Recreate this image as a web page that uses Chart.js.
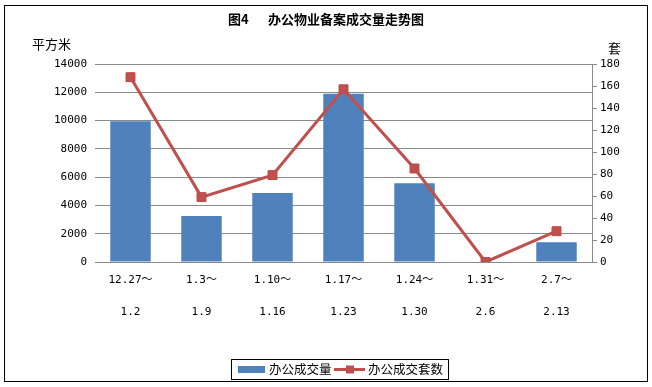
<!DOCTYPE html>
<html>
<head>
<meta charset="utf-8">
<script src="https://cdn.jsdelivr.net/npm/chart.js@4/dist/chart.umd.min.js"></script>
<style>
  html, body { margin: 0; padding: 0; background: #fff; }
  #wrap { width: 652px; height: 387px; position: relative; }
</style>
</head>
<body>
<div id="wrap"><canvas id="c" width="652" height="387"></canvas></div>
<script>
// ---- data ----
const periodStart = ['12.27～', '1.3～', '1.10～', '1.17～', '1.24～', '1.31～', '2.7～'];
const periodEnd   = ['1.2', '1.9', '1.16', '1.23', '1.30', '2.6', '2.13'];
const areaValues  = [9950, 3260, 4870, 11900, 5570, 0, 1400];   // 办公成交量 (平方米)
const unitValues  = [168, 59, 79, 157, 85, 0, 28];              // 办公成交套数 (套)
const leftTicks   = [0, 2000, 4000, 6000, 8000, 10000, 12000, 14000];
const rightTicks  = [0, 20, 40, 60, 80, 100, 120, 140, 160, 180];
const seriesNames = ['办公成交量', '办公成交套数'];
const chartTitleA = '图4';
const chartTitleB = '办公物业备案成交量走势图';
const leftUnit = '平方米';
const rightUnit = '套';

const labels = periodStart.map((s, i) => [s, periodEnd[i]]);

const BLUE = '#4F81BD';
const RED = '#C0504D';
const GRID = '#8a8a8a';
const CJK = '"Noto Sans CJK SC", "DejaVu Sans", sans-serif';
const MONO = '"DejaVu Sans Mono", "Noto Sans CJK SC", monospace';

const decor = {
  id: 'decor',
  afterDraw(chart) {
    const ctx = chart.ctx;
    ctx.save();
    // outer frame
    ctx.strokeStyle = '#000';
    ctx.lineWidth = 1;
    ctx.strokeRect(4.5, 5.5, 643, 376);
    // title
    ctx.fillStyle = '#000';
    ctx.textBaseline = 'middle';
    ctx.textAlign = 'left';
    ctx.font = 'bold 13px ' + CJK;
    ctx.fillText(chartTitleA, 228, 19);
    ctx.fillText(chartTitleB, 268, 19);
    // unit labels
    ctx.font = '13px ' + CJK;
    ctx.fillText(leftUnit, 32, 44);
    ctx.fillText(rightUnit, 608, 48);
    // legend
    const lx = 231, ly = 359, lw = 217, lh = 20;
    ctx.lineWidth = 1;
    ctx.strokeStyle = '#000';
    ctx.strokeRect(lx + 0.5, ly + 0.5, lw, lh);
    const cy = ly + lh / 2 + 0.5;
    ctx.fillStyle = BLUE;
    ctx.fillRect(238, cy - 3.5, 27, 7);
    ctx.fillStyle = '#000';
    ctx.font = '12.5px ' + CJK;
    ctx.fillText(seriesNames[0], 269, cy);
    ctx.strokeStyle = RED;
    ctx.lineWidth = 3;
    ctx.beginPath();
    ctx.moveTo(334, cy);
    ctx.lineTo(365, cy);
    ctx.stroke();
    ctx.fillStyle = RED;
    ctx.fillRect(346, cy - 4, 8, 8);
    ctx.fillStyle = '#000';
    ctx.fillText(seriesNames[1], 368, cy);
    ctx.restore();
  }
};

new Chart(document.getElementById('c'), {
  type: 'bar',
  data: {
    labels: labels,
    datasets: [
      {
        type: 'line',
        label: seriesNames[1],
        data: unitValues,
        yAxisID: 'y2',
        borderColor: RED,
        backgroundColor: RED,
        borderWidth: 3,
        pointStyle: 'rect',
        pointRadius: 6.3,
        pointBorderWidth: 1,
        pointBorderColor: '#b84a47',
        pointBackgroundColor: RED,
        tension: 0,
        order: 0
      },
      {
        type: 'bar',
        label: seriesNames[0],
        data: areaValues,
        yAxisID: 'y',
        backgroundColor: BLUE,
        borderWidth: 0,
        barPercentage: 0.57,
        categoryPercentage: 1.0,
        order: 1
      }
    ]
  },
  options: {
    responsive: false,
    animation: false,
    devicePixelRatio: 1,
    layout: { padding: { top: 64, left: 0, right: 0, bottom: 0 } },
    plugins: {
      legend: { display: false },
      title: { display: false },
      tooltip: { enabled: false }
    },
    scales: {
      x: {
        offset: true,
        grid: { display: false, drawTicks: false },
        border: { display: false },
        ticks: {
          color: '#000',
          font: { family: MONO, size: 11, lineHeight: '32px' },
          padding: 2,
          maxRotation: 0,
          autoSkip: false
        },
        afterFit(s) { s.height = 125; }
      },
      y: {
        position: 'left',
        min: 0, max: 14000,
        afterBuildTicks(s) { s.ticks = leftTicks.map(v => ({ value: v })); },
        grid: { color: GRID, lineWidth: 1, drawTicks: false },
        border: { display: false },
        ticks: {
          color: '#000',
          font: { family: MONO, size: 11 },
          padding: 8,
          callback: (v) => String(v)
        },
        afterFit(s) { s.width = 95; }
      },
      y2: {
        position: 'right',
        min: 0, max: 180,
        afterBuildTicks(s) { s.ticks = rightTicks.map(v => ({ value: v })); },
        grid: { drawOnChartArea: false, color: GRID, tickLength: 5, lineWidth: 1 },
        border: { display: true, color: GRID, width: 1 },
        ticks: {
          color: '#000',
          font: { family: MONO, size: 11 },
          padding: 3,
          callback: (v) => String(v)
        },
        afterFit(s) { s.width = 60; }
      }
    }
  },
  plugins: [decor]
});
</script>
</body>
</html>
